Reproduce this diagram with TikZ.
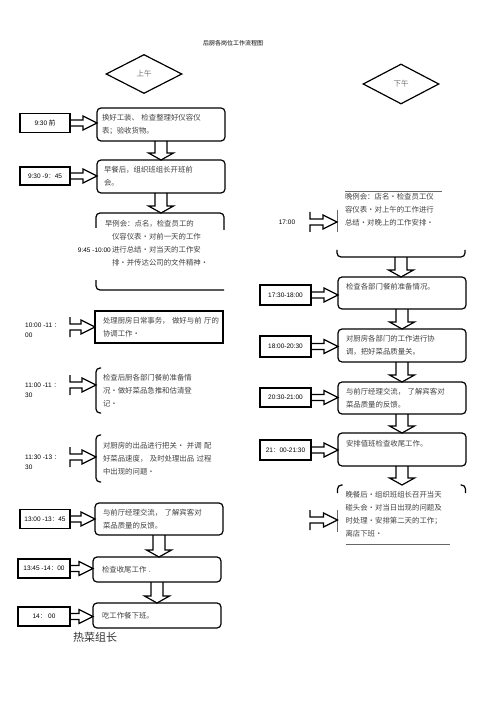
\documentclass[tikz,border=0pt]{standalone}
\usepackage{fontspec}
\setmainfont{Liberation Sans}
\newfontfamily\cjk{Noto Sans CJK SC}
\usetikzlibrary{shapes.geometric,calc}

\tikzset{
  period/.style={diamond, draw, line width=1.2pt, inner sep=0pt, aspect=2, minimum width=76pt, minimum height=39pt, font=\cjk\fontsize{7.5}{9}\selectfont, text=black!55},
  task/.style={draw, line width=1.2pt, rounded corners=4pt, outer sep=0pt, inner xsep=5pt, inner ysep=1pt, text width=118pt, minimum height=32pt, align=left, font=\cjk\fontsize{7.4}{13}\selectfont, text=black!75},
  squaretask/.style={task, sharp corners},
  openbox/.style={task, draw=none},
  timebox/.style={draw, line width=1.2pt, outer sep=0pt, inner sep=0pt, minimum width=50pt, minimum height=19pt, font=\fontsize{6.5}{8}\selectfont},
  timetext/.style={inner sep=0pt, align=left, font=\fontsize{6.5}{10}\selectfont},
  partline/.style={line width=1.2pt, rounded corners=4pt},
  thinline/.style={line width=0.6pt, black!60},
  hollow/.style={draw, line width=1.2pt, line join=miter},
  heading/.style={font=\cjk\fontsize{6}{7}\selectfont},
  role/.style={font=\cjk\fontsize{11}{13}\selectfont, text=black!80},
}

\newcommand\wc{{\cjk ：}}
\newcommand\topblock[2]{\parbox[c][#1][t]{118pt}{\raggedright #2}}
% hollow arrows, node to node
\newcommand\hollowright[2]{\draw[hollow] let \p1=(#1.east), \p2=(#2.west) in
  (\x1,\y1+3pt) -- (\x2-14pt,\y1+3pt) -- (\x2-14pt,\y1+7pt) -- (\x2,\y1)
  -- (\x2-14pt,\y1-7pt) -- (\x2-14pt,\y1-3pt) -- (\x1,\y1-3pt);}
\newcommand\flangedright[2]{\draw[hollow] let \p1=(#1), \p2=(#2.west) in
  (\x1,\y1+10pt) -- (\x1,\y1+3pt) -- (\x2-14pt,\y1+3pt) -- (\x2-14pt,\y1+7pt) -- (\x2,\y1)
  -- (\x2-14pt,\y1-7pt) -- (\x2-14pt,\y1-3pt) -- (\x1,\y1-3pt) -- (\x1,\y1-10pt);}
\newcommand\hollowdown[2]{\draw[hollow] let \p1=(#1.south), \p2=(#2.north) in
  (\x1-6pt,\y1) -- (\x1-6pt,\y2+7pt) -- (\x1-12.5pt,\y2+7pt) -- (\x1,\y2)
  -- (\x1+12.5pt,\y2+7pt) -- (\x1+6pt,\y2+7pt) -- (\x1+6pt,\y1);}

\begin{document}
\begin{tikzpicture}[x=1pt,y=-1pt]
\useasboundingbox (0,0) rectangle (500,708);
\node[heading] (title) at (233,43) {后厨各岗位工作流程图};

% morning column
\node[period] (am) at (144,74) {上午};

\node[task, minimum height=33pt] (b1) at (161,124.5) {换好工装、 检查整理好仪容仪\\表；验收货物。};
\node[timebox] (t1) at (45,123) {9:30 {\cjk 前}};

\node[task, minimum height=33pt] (b2) at (161,176.5) {\hspace*{2pt}早餐后，组织班组长开班前\\\hspace*{2pt}会。};
\node[timebox, minimum height=18pt] (t2) at (45,176) {9:30 -9\wc 45};

\node[openbox, minimum height=77pt] (b3) at (160,251.5) {\topblock{63pt}{\hspace*{4pt}早例会：点名，检查员工的\\\hspace*{11pt}仪容仪表・对前一天的工作\\\hspace*{11pt}进行总结・对当天的工作安\\\hspace*{11pt}排・并传达公司的文件精神・}};
\node[timetext, anchor=east] (t3) at (111,250) {9:45 -10:00};

\node[squaretask, minimum height=32pt, text width=124pt, inner xsep=2pt] (b4) at (159,327) {\hspace*{6pt}处理厨房日常事务，~做好与前~厅的\\\hspace*{6pt}协调工作・};
\node[timetext, anchor=west] (t4) at (25,330) {10:00 -11 \wc\\00};
\coordinate (c4) at (70,327);

\node[openbox, minimum height=45pt] (b5) at (160,390.5) {\hspace*{2pt}检查后厨各部门餐前准备情\\\hspace*{2pt}况・做好菜品急推和估清登\\\hspace*{2pt}记・};
\node[timetext, anchor=west] (t5) at (25,390.5) {11:00 -11 \wc\\30};
\coordinate (c5) at (70,385);

\node[openbox, minimum height=47pt] (b6) at (160,458.5) {\hspace*{2pt}对厨房的出品进行把关・  并调 配\\\hspace*{2pt}好菜品速度，  及时处理出品 过程\\\hspace*{2pt}中出现的问题・};
\node[timetext, anchor=west] (t6) at (25,462.5) {11:30 -13 \wc\\30};
\coordinate (c6) at (70,457);

\node[task, minimum height=32pt] (b7) at (159,519) {\hspace*{3pt}与前厅经理交流，    了解宾客对\\\hspace*{3pt}菜品质量的反馈。};
\node[timebox] (t7) at (45,519) {13:00 -13\wc 45};

\node[task, minimum height=25pt] (b8) at (157,569.5) {\hspace*{4pt}检查收尾工作  .};
\node[timebox, minimum width=52pt] (t8) at (44,568.5) {13:45 -14\wc 00};

\node[task, minimum height=25pt] (b9) at (157,615.5) {\hspace*{4pt}吃工作餐下班。};
\node[timebox, minimum width=52pt] (t9) at (44,616.5) {14\wc\ 00};

\node[role] (cook) at (95,637) {热菜组长};

% afternoon column
\node[period, minimum height=40pt] (pm) at (401,84) {下午};

\node[openbox, minimum height=66pt] (r1) at (401,224) {\topblock{62pt}{\hspace*{3pt}晚例会：店名・检查员工仪\\\hspace*{3pt}容仪表・对上午的工作进行\\\hspace*{3pt}总结・对晚上的工作安排・}};
\node[timetext] (tr1) at (287,222) {17:00};
\coordinate (cr1) at (310,222);

\node[task] (r2) at (402,293) {\topblock{19pt}{\hspace*{3pt}检查各部门餐前准备情况。}};
\node[timebox, minimum width=51pt, minimum height=20pt] (tr2) at (285.5,295) {17:30-18:00};

\node[task, minimum height=33pt] (r3) at (402,345.5) {\hspace*{3pt}对厨房各部门的工作进行协\\\hspace*{3pt}调，把好菜品质量关。};
\node[timebox, minimum width=51pt, minimum height=21pt] (tr3) at (285.5,346.5) {18:00-20:30};

\node[task] (r4) at (402,398) {\hspace*{3pt}与前厅经理交流，    了解宾客对\\\hspace*{3pt}菜品质量的反馈。};
\node[timebox, minimum width=51pt] (tr4) at (285.5,397.5) {20:30-21:00};

\node[task, minimum height=33pt] (r5) at (402,449.5) {\topblock{19pt}{\hspace*{3pt}安排值班检查收尾工作。}};
\node[timebox, minimum width=51pt, minimum height=20pt] (tr5) at (285.5,450) {21\wc 00-21:30};

\node[openbox, minimum height=59pt] (r6) at (401.5,514.5) {\hspace*{3pt}晚餐后・组织班组长召开当天\\\hspace*{3pt}碰头会・对当日出现的问题及\\\hspace*{3pt}时处理・安排第二天的工作；\\\hspace*{3pt}离店下班・};
\coordinate (cr6) at (310,520);

% open outlines
\draw[partline] ([yshift=-15pt]b3.north west) -- (b3.north west) -- (b3.north east) -- ([yshift=-17pt]b3.north east);
\draw[partline] ([yshift=10pt]b3.south west) -- (b3.south west) -- (b3.south east);
\draw[partline] ([xshift=5pt]b5.north west) -- (b5.north west) -- (b5.south west) -- ([xshift=5pt]b5.south west);
\draw[partline] ([xshift=5pt]b6.north west) -- (b6.north west) -- (b6.south west) -- ([xshift=5pt]b6.south west);
\draw[thinline] ([xshift=8pt]r1.north west) -- ([xshift=-23pt]r1.north east);
\draw[thinline] ([yshift=-19pt]r1.north west) -- ([yshift=-41pt]r1.north west);
\draw[partline] ([yshift=7pt]r1.south west) -- (r1.south west) -- (r1.south east) -- ([yshift=7pt]r1.south east);
\draw[partline] ([yshift=-8pt]r6.north west) -- (r6.north west) -- ([xshift=5pt]r6.north west);
\draw[partline] ([xshift=-5pt]r6.north east) -- (r6.north east) -- ([yshift=-8pt]r6.north east);
\draw[thinline] ([yshift=-25pt]r6.north west) -- ([yshift=-47pt]r6.north west);
\draw[thinline] ([xshift=8pt]r6.south west) -- ([xshift=-16pt]r6.south east);

% arrows
\hollowdown{b1}{b2} \hollowdown{b2}{b3} \hollowdown{b7}{b8} \hollowdown{b8}{b9}
\hollowdown{r1}{r2} \hollowdown{r2}{r3} \hollowdown{r3}{r4} \hollowdown{r4}{r5} \hollowdown{r5}{r6}
\hollowright{t1}{b1} \hollowright{t2}{b2} \hollowright{t7}{b7} \hollowright{t8}{b8} \hollowright{t9}{b9}
\hollowright{tr2}{r2} \hollowright{tr3}{r3} \hollowright{tr4}{r4} \hollowright{tr5}{r5}
\flangedright{c4}{b4} \flangedright{c5}{b5} \flangedright{c6}{b6}
\flangedright{cr1}{r1} \flangedright{cr6}{r6}
\end{tikzpicture}
\end{document}
